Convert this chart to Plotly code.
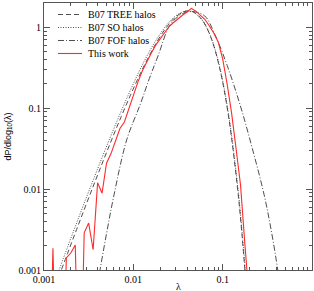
import plotly.graph_objects as go

# ---- data ----
lam_tree = [0.001462, 0.001841, 0.002317, 0.002917, 0.003673, 0.004624, 0.005821, 0.007328,
            0.009226, 0.01161, 0.01462, 0.01841, 0.02317, 0.02917, 0.03673, 0.04150, 0.04624,
            0.05821, 0.07328, 0.09226, 0.1161, 0.1462, 0.1641, 0.1841]
dp_tree = [0.00082, 0.00162, 0.00317, 0.00617, 0.0119, 0.0227, 0.0428, 0.0791,
           0.1426, 0.2495, 0.419, 0.665, 0.981, 1.316, 1.56, 1.60, 1.565,
           1.263, 0.766, 0.318, 0.0805, 0.0106, 0.00282, 0.00059]

lam_so = [0.001462, 0.001841, 0.002317, 0.002917, 0.003673, 0.004624, 0.005821, 0.007328,
          0.009226, 0.01161, 0.01462, 0.01841, 0.02317, 0.02917, 0.03673, 0.04150, 0.04624,
          0.05821, 0.07328, 0.09226, 0.1161, 0.1462, 0.1641, 0.1841]
dp_so = [0.00098, 0.00194, 0.0038, 0.0074, 0.0142, 0.0270, 0.0505, 0.0925,
         0.165, 0.285, 0.470, 0.725, 1.04, 1.36, 1.57, 1.59, 1.55,
         1.25, 0.775, 0.330, 0.086, 0.0118, 0.0032, 0.00068]

lam_fof = [0.003802, 0.004236, 0.005012, 0.006081, 0.008433, 0.01189, 0.01514, 0.01905,
           0.02576, 0.03548, 0.04571, 0.0631, 0.08222, 0.1122, 0.1567, 0.2138, 0.2911,
           0.3548, 0.4140, 0.4467]
dp_fof = [0.0005, 0.001, 0.00282, 0.00851, 0.0407, 0.110, 0.234, 0.454,
          1.067, 1.479, 1.567, 1.380, 0.804, 0.339, 0.110, 0.0324, 0.00851,
          0.00282, 0.001, 0.00056]

lam_work = [0.001122, 0.001259, 0.001413, 0.001585, 0.001778, 0.001995, 0.002239, 0.002512,
            0.002818, 0.003162, 0.003548, 0.003981, 0.004467, 0.005012, 0.005623, 0.00631,
            0.007079, 0.007943, 0.008913, 0.01, 0.01122, 0.01259, 0.01413, 0.01585, 0.01778,
            0.01995, 0.02239, 0.02512, 0.02818, 0.03162, 0.03548, 0.03981, 0.04467, 0.05012,
            0.05623, 0.0631, 0.07079, 0.07943, 0.08913, 0.1, 0.1122, 0.1259, 0.1413, 0.1585,
            0.1778, 0.1995]
dp_work = [0.0, 0.00186, 0.0, 0.0, 0.00141, 0.00162, 0.00204, 0.0,
           0.00288, 0.00380, 0.00178, 0.0120, 0.00891, 0.0209, 0.0275, 0.0398,
           0.0562, 0.0676, 0.100, 0.1445, 0.209, 0.288, 0.380, 0.479, 0.603,
           0.724, 0.851, 1.023, 1.148, 1.288, 1.413, 1.549, 1.718, 1.585,
           1.396, 1.259, 1.047, 0.851, 0.661, 0.407, 0.1995, 0.0871, 0.0316, 0.0112,
           0.0020, 0.0004]

tick_vals = [0.001, 0.01, 0.1, 1]
tick_text = ["0.001", "0.01", "0.1", "1"]
legend_names = ["B07 TREE halos", "B07 SO halos", "B07 FOF halos", "This work"]

# ---- figure ----
FONT = "Liberation Serif"
AX = "#555555"
fig = go.Figure()

styles = [
    dict(color="#3a3a3a", width=0.9, dash="5px,3px"),
    dict(color="#3a3a3a", width=0.9, dash="1px,1.5px"),
    dict(color="#3a3a3a", width=0.9, dash="6px,2px,1px,2px"),
    dict(color="#ff2a2a", width=1.1),
]

fig.add_trace(go.Scatter(x=lam_tree, y=dp_tree, mode="lines", line=dict(**styles[0], shape="spline"),
                         name=legend_names[0], showlegend=False))
fig.add_trace(go.Scatter(x=lam_so, y=dp_so, mode="lines", line=dict(**styles[1], shape="spline"),
                         name=legend_names[1], showlegend=False))
fig.add_trace(go.Scatter(x=lam_fof, y=dp_fof, mode="lines", line=dict(**styles[2], shape="spline"),
                         name=legend_names[2], showlegend=False))
work_plot = [v if v > 0 else 1e-5 for v in dp_work]
fig.add_trace(go.Scatter(x=lam_work, y=work_plot, mode="lines", line=styles[3],
                         name=legend_names[3], showlegend=False))

# manual legend (line samples + labels)
leg_y = [0.9569, 0.9082, 0.8596, 0.8109]
for i, name in enumerate(legend_names):
    fig.add_shape(type="line", xref="paper", yref="paper", x0=0.0522, x1=0.1418,
                  y0=leg_y[i], y1=leg_y[i], line=styles[i])
    fig.add_annotation(xref="paper", yref="paper", x=0.1567, y=leg_y[i], text=name,
                       showarrow=False, xanchor="left", yanchor="middle",
                       font=dict(family=FONT, size=10, color="black"))

minor_vals = [m * 10.0 ** e for e in range(-3, 1) for m in range(2, 10)]

axis_common = dict(
    type="log", showgrid=False, zeroline=False,
    showline=True, linecolor=AX, linewidth=1, mirror="allticks",
    ticks="inside", ticklen=6, tickwidth=1, tickcolor=AX,
    tickmode="array", tickvals=tick_vals, ticktext=tick_text,
    tickfont=dict(family=FONT, size=10, color="black"),
    minor=dict(ticks="inside", ticklen=3, tickwidth=1, tickcolor=AX,
               tickmode="array", tickvals=minor_vals, showgrid=False),
)

fig.update_xaxes(range=[-3, 0], **axis_common)
fig.update_yaxes(range=[-3, 0.301], **axis_common)

fig.add_annotation(xref="paper", yref="paper", x=0.5, y=-0.060, text="λ", showarrow=False,
                   xanchor="center", yanchor="middle", font=dict(family=FONT, size=10, color="black"))
fig.add_annotation(xref="paper", yref="paper", x=-0.134, y=0.5, text="dP/dlog<sub>10</sub>(λ)",
                   showarrow=False, textangle=-90, xanchor="center", yanchor="middle",
                   font=dict(family="Liberation Sans", size=9, color="black"))

fig.update_layout(
    width=314, height=291,
    margin=dict(l=44, r=2, t=3, b=21),
    paper_bgcolor="white", plot_bgcolor="white",
    showlegend=False,
)

fig.write_html("out.html", config={"displayModeBar": False},
               post_script="document.body.style.margin='0';")
